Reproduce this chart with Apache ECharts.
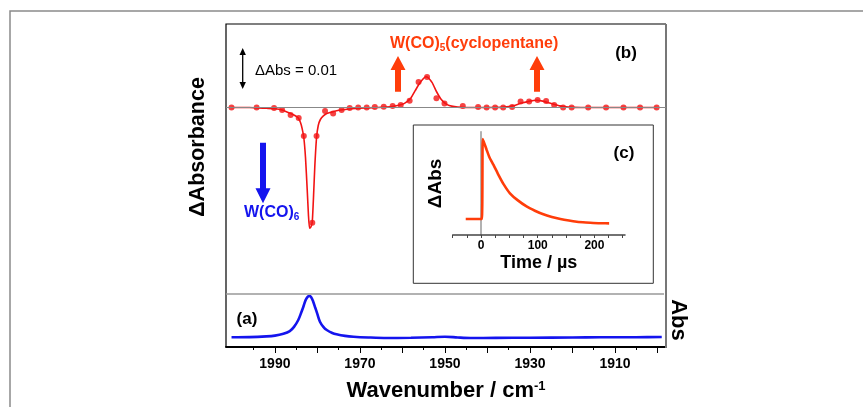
<!DOCTYPE html>
<html>
<head>
<meta charset="utf-8">
<script src="https://cdn.jsdelivr.net/npm/echarts@6/dist/echarts.min.js"></script>
<style>html,body{margin:0;padding:0;background:#fff}#c{width:863px;height:407px}</style>
</head>
<body>
<div id="c"></div>
<script>
// ---- data ----
// (b) TRIR difference spectrum: measured points
const dotWn = [2000.2, 1994.3, 1990.2, 1988.3, 1986.3, 1984.4, 1983.2, 1981.2, 1980.2, 1978.2, 1976.3, 1974.3, 1972.4, 1970.4, 1968.4, 1966.5, 1964.4, 1962.3, 1960.4, 1958.3, 1956.2, 1954.2, 1952.0, 1950.1, 1945.8, 1942.2, 1940.2, 1938.2, 1936.3, 1934.2, 1932.2, 1930.2, 1928.2, 1926.2, 1924.3, 1922.2, 1920.2, 1916.3, 1912.1, 1908.0, 1904.1, 1900.2];
const dotDA = [0, 0, -0.0001, -0.0006, -0.0019, -0.0026, -0.0071, -0.0288, -0.0071, -0.0009, -0.0015, -0.0006, -0.0001, 0, 0, 0.0001, 0.0002, 0.0004, 0.0006, 0.0017, 0.0064, 0.0076, 0.0023, 0.001, 0.0004, 0.0001, 0, 0, 0, 0.0001, 0.0015, 0.0015, 0.0019, 0.0016, 0.0006, 0, 0, 0, 0, 0, 0, 0];
// (b) fitted curve
const fitWn = [2000.2, 1996, 1992, 1990, 1988.3, 1986.3, 1985.3, 1984.5, 1984.0, 1983.6, 1983.2, 1982.8, 1982.4, 1982.1, 1981.85, 1981.5, 1981.2, 1980.9, 1980.6, 1980.2, 1979.8, 1979.3, 1978.6, 1977.8, 1976.5, 1975, 1972, 1968, 1964, 1962, 1960, 1959, 1958, 1957, 1956, 1955, 1954.5, 1954, 1953, 1952, 1951, 1950, 1949, 1947, 1945, 1940, 1936, 1934, 1932, 1930, 1928.5, 1927, 1925, 1923, 1921, 1918, 1900.2];
const fitDA = [0, 0, -0.0002, -0.0003, -0.0006, -0.0015, -0.002, -0.0026, -0.0037, -0.0052, -0.0075, -0.0125, -0.0205, -0.027, -0.0302, -0.0298, -0.0285, -0.022, -0.0145, -0.0075, -0.0045, -0.003, -0.0021, -0.0015, -0.0011, -0.0007, -0.0003, -0.0001, 0.0001, 0.0003, 0.0008, 0.0014, 0.0024, 0.0042, 0.006, 0.0073, 0.0077, 0.0075, 0.0062, 0.004, 0.0022, 0.0011, 0.0005, 0.0001, 0, 0, 0.0001, 0.0004, 0.0011, 0.0016, 0.0018, 0.0016, 0.001, 0.0004, 0.0001, 0, 0];
// (a) FTIR absorbance (relative)
const ftirWn = [2000.2, 1996, 1992, 1990, 1988, 1986.5, 1985.5, 1984.5, 1983.8, 1983.3, 1982.8, 1982.3, 1981.9, 1981.5, 1981, 1980.5, 1980, 1979.4, 1978.6, 1977.8, 1976.5, 1975.5, 1973.5, 1971.5, 1968, 1963.7, 1958, 1953, 1950, 1947, 1944, 1938, 1930, 1920, 1913.5, 1905, 1899];
const ftirAbs = [0.183, 0.186, 0.2, 0.215, 0.25, 0.3, 0.38, 0.51, 0.65, 0.76, 0.88, 0.945, 0.962, 0.945, 0.86, 0.74, 0.62, 0.477, 0.38, 0.32, 0.265, 0.24, 0.21, 0.194, 0.18, 0.17, 0.175, 0.185, 0.194, 0.18, 0.17, 0.172, 0.175, 0.18, 0.183, 0.185, 0.19];
// (c) kinetic trace
const decayT = [-27, 1.2, 3, 6, 10, 15, 22, 30, 40, 51, 65, 81, 95, 110, 125, 140, 155, 169, 185, 198, 213, 226];
const decayV = [0.155, 0.155, 0.93, 0.885, 0.823, 0.75, 0.678, 0.59, 0.49, 0.404, 0.335, 0.274, 0.235, 0.2, 0.175, 0.155, 0.14, 0.129, 0.121, 0.116, 0.114, 0.113];
// tick labels
const wnLabels = [1990, 1970, 1950, 1930, 1910];
const wnMajorTicks = [1990, 1980, 1970, 1960, 1950, 1940, 1930, 1920, 1910, 1900];
const wnMinorTicks = [1995, 1985, 1975, 1965, 1955, 1945, 1935, 1925, 1915, 1905];
const timeLabels = [0, 100, 200];

// ---- chart ----
const FF = "'Liberation Sans', Arial, sans-serif";
const RED = '#f21414', ORANGE = '#ff3d0a', BLUE = '#1414ee';
const zip = (a, b) => a.map((v, i) => [v, b[i]]);
const chart = echarts.init(document.getElementById('c'), null, {renderer: 'canvas'});

function T(x, y, text, font, fill, align, extra) {
  return Object.assign({type: 'text', x: x, y: y, z: 10,
    style: {text: text, font: font, fill: fill || '#000', align: align || 'center', verticalAlign: 'middle'}}, extra || {});
}
function upArrow(cx, yb, yh, yt, c) {
  return {type: 'polygon', z: 10, shape: {points: [[cx - 3, yb], [cx - 3, yh], [cx - 7.5, yh], [cx, yt], [cx + 7.5, yh], [cx + 3, yh], [cx + 3, yb]]}, style: {fill: c}};
}

const option = {
  animation: false,
  textStyle: {fontFamily: FF},
  grid: [
    {left: 226, top: 24, width: 440, height: 270},
    {left: 226, top: 294, width: 440, height: 53},
    {left: 452.7, top: 131.7, width: 172.3, height: 103.3}
  ],
  xAxis: [
    {gridIndex: 0, type: 'value', min: 1898, max: 2001.5, inverse: true, show: false},
    {gridIndex: 1, type: 'value', position: 'bottom', min: 1898, max: 2001.5, inverse: true,
      axisLine: {show: true, lineStyle: {color: '#000', width: 2}},
      axisTick: {show: true, customValues: wnMajorTicks, length: 6, lineStyle: {color: '#000', width: 1}},
      axisLabel: {show: true, customValues: wnLabels, margin: 10, fontSize: 14, fontWeight: 'bold', color: '#000', fontFamily: FF,
        formatter: v => String(v)},
      splitLine: {show: false},
      name: '{a|Wavenumber / cm}{b|-1}', nameLocation: 'middle', nameGap: 33,
      nameTextStyle: {rich: {
        a: {fontSize: 22, fontWeight: 'bold', color: '#000', fontFamily: FF},
        b: {fontSize: 13, fontWeight: 'bold', color: '#000', fontFamily: FF, verticalAlign: 'top'}
      }}
    },
    {gridIndex: 1, type: 'value', position: 'bottom', offset: 0, min: 1898, max: 2001.5, inverse: true,
      axisLine: {show: false},
      axisTick: {show: true, customValues: wnMinorTicks, length: 3, lineStyle: {color: '#000', width: 1}},
      axisLabel: {show: false}, splitLine: {show: false}
    },
    {gridIndex: 2, type: 'value', min: -50, max: 254, interval: 25,
      axisLine: {show: true, lineStyle: {color: '#444', width: 1.5}},
      axisTick: {show: true, length: 3, lineStyle: {color: '#444', width: 1}},
      axisLabel: {show: true, margin: 5, fontSize: 12, fontWeight: 'bold', color: '#000', fontFamily: FF,
        showMinLabel: true, showMaxLabel: false,
        formatter: v => timeLabels.indexOf(v) >= 0 ? String(v) : ''},
      splitLine: {show: false},
      name: 'Time / µs', nameLocation: 'middle', nameGap: 19,
      nameTextStyle: {fontSize: 18, fontWeight: 'bold', color: '#000', fontFamily: FF}
    }
  ],
  yAxis: [
    {gridIndex: 0, type: 'value', min: -0.046625, max: 0.020875, show: false},
    {gridIndex: 1, type: 'value', min: 0, max: 1, show: false},
    {gridIndex: 2, type: 'value', min: 0, max: 1,
      axisLine: {show: true, lineStyle: {color: '#999', width: 1.5}},
      axisTick: {show: false}, axisLabel: {show: false}, splitLine: {show: false},
      name: 'ΔAbs', nameLocation: 'middle', nameGap: 7,
      nameTextStyle: {fontSize: 19, fontWeight: 'bold', color: '#000', fontFamily: FF}
    }
  ],
  series: [
    {type: 'line', xAxisIndex: 0, yAxisIndex: 0, data: [], z: 1, silent: true,
      markLine: {silent: true, symbol: 'none', label: {show: false},
        lineStyle: {color: '#888', width: 1, type: 'solid'}, data: [{yAxis: 0}]}},
    {type: 'line', xAxisIndex: 0, yAxisIndex: 0, data: zip(fitWn, fitDA), showSymbol: false, smooth: 0.15,
      lineStyle: {color: RED, width: 1.6}, z: 3},
    {type: 'scatter', xAxisIndex: 0, yAxisIndex: 0, data: zip(dotWn, dotDA), symbolSize: 6,
      itemStyle: {color: RED}, z: 4},
    {type: 'line', xAxisIndex: 1, yAxisIndex: 1, data: zip(ftirWn, ftirAbs), showSymbol: false, smooth: 0.3,
      lineStyle: {color: BLUE, width: 2.6}, z: 3},
    {type: 'line', xAxisIndex: 3, yAxisIndex: 2, data: zip(decayT, decayV), showSymbol: false, smooth: 0.2,
      lineStyle: {color: ORANGE, width: 2.6}, z: 3}
  ],
  graphic: [
    // outer frame
    {type: 'rect', z: 0, shape: {x: 10, y: 11, width: 900, height: 500}, style: {fill: 'none', stroke: '#8a8a8a', lineWidth: 1.5}},
    // main box
    {type: 'polyline', z: 5, shape: {points: [[666, 24], [226, 24], [226, 347]]}, style: {fill: 'none', stroke: '#000', lineWidth: 1.2}},
    {type: 'line', z: 5, shape: {x1: 666, y1: 24, x2: 666, y2: 348}, style: {stroke: '#777', lineWidth: 2}},
    {type: 'line', z: 5, shape: {x1: 226, y1: 294, x2: 664, y2: 294}, style: {stroke: '#999', lineWidth: 1.5}},
    // inset box
    {type: 'rect', z: 5, shape: {x: 413.3, y: 125, width: 240, height: 158.3}, style: {fill: 'none', stroke: '#333', lineWidth: 1}},
    // axis titles
    T(198, 147, 'ΔAbsorbance', 'bold 21.5px ' + FF, '#000', 'center', {rotation: Math.PI / 2}),
    T(678.5, 320, 'Abs', 'bold 22px ' + FF, '#000', 'center', {rotation: -Math.PI / 2}),
    // panel labels
    T(247, 319.5, '(a)', 'bold 17px ' + FF),
    T(626, 53.5, '(b)', 'bold 17px ' + FF),
    T(624, 153.5, '(c)', 'bold 17px ' + FF),
    // scale bar
    {type: 'line', z: 10, shape: {x1: 242.7, y1: 53, x2: 242.7, y2: 84}, style: {stroke: '#000', lineWidth: 1.3}},
    {type: 'polygon', z: 10, shape: {points: [[239.5, 55], [242.7, 48], [245.9, 55]]}, style: {fill: '#000'}},
    {type: 'polygon', z: 10, shape: {points: [[239.5, 82], [242.7, 89], [245.9, 82]]}, style: {fill: '#000'}},
    T(255, 70.5, 'ΔAbs = 0.01', '15px ' + FF, '#000', 'left'),
    // product label and arrows
    {type: 'text', x: 390, y: 43.5, z: 10, style: {
      text: '{a|W(CO)}{s|5}{a|(cyclopentane)}', align: 'left', verticalAlign: 'middle',
      rich: {
        a: {fontSize: 16, fontWeight: 'bold', fontFamily: FF, fill: ORANGE, verticalAlign: 'middle', lineHeight: 20},
        s: {fontSize: 10, fontWeight: 'bold', fontFamily: FF, fill: ORANGE, verticalAlign: 'bottom', padding: [8, 0, 0, 0]}
      }}},
    upArrow(398, 91.7, 70, 56, ORANGE),
    upArrow(537, 91.7, 70, 56, ORANGE),
    // parent label and arrow
    {type: 'polygon', z: 10, shape: {points: [[260, 142.7], [266, 142.7], [266, 188.3], [270.5, 188.3], [263, 203.3], [255.5, 188.3], [260, 188.3]]}, style: {fill: BLUE}},
    {type: 'text', x: 244, y: 212.7, z: 10, style: {
      text: '{a|W(CO)}{s|6}', align: 'left', verticalAlign: 'middle',
      rich: {
        a: {fontSize: 16, fontWeight: 'bold', fontFamily: FF, fill: BLUE, verticalAlign: 'middle', lineHeight: 20},
        s: {fontSize: 10, fontWeight: 'bold', fontFamily: FF, fill: BLUE, verticalAlign: 'bottom', padding: [8, 0, 0, 0]}
      }}}
  ]
};
chart.setOption(option);
</script>
</body>
</html>
